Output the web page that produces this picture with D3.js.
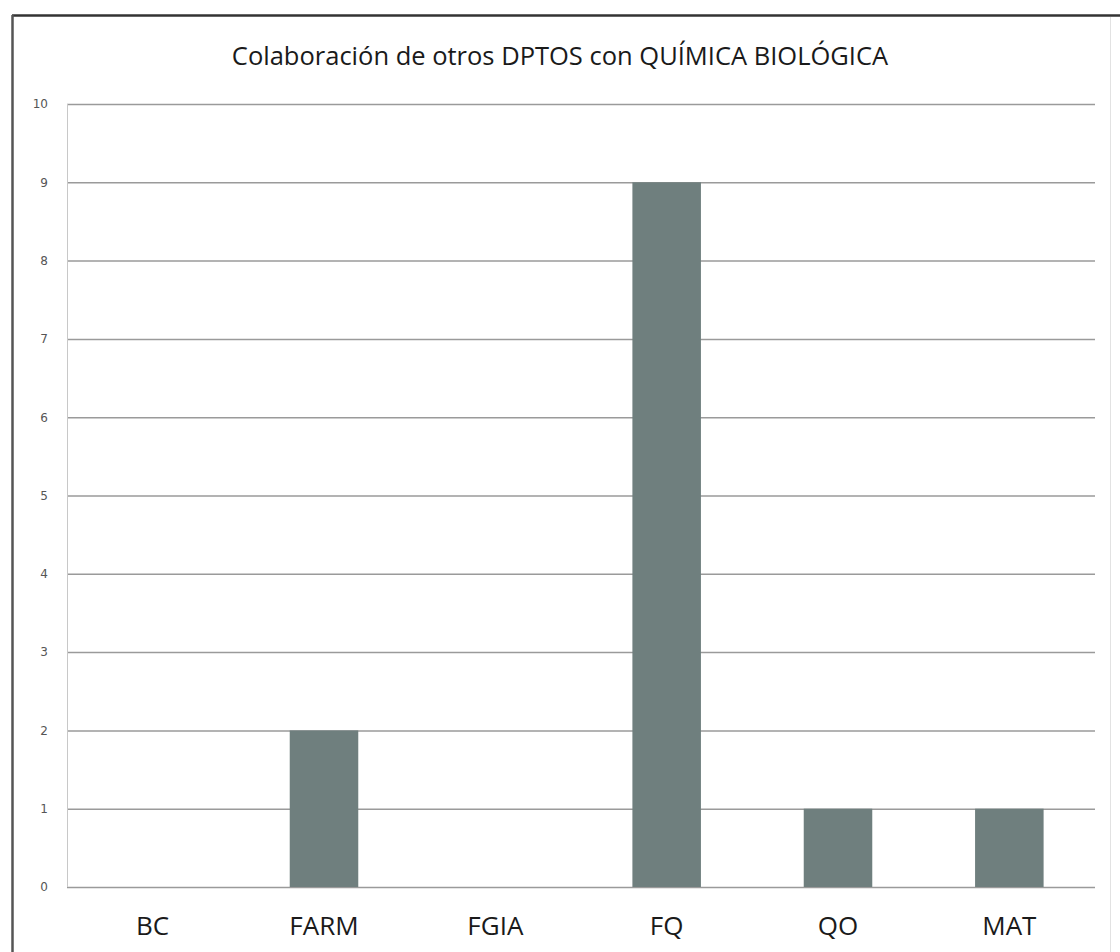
<!DOCTYPE html>
<html>
<head>
<meta charset="utf-8">
<script src="https://d3js.org/d3.v7.min.js"></script>
<style>
  body { margin: 0; background: #fff; }
  svg { display: block; }
</style>
</head>
<body>
<svg width="1120" height="952"></svg>
<script>
var svg = d3.select('svg');

// chart data
var categories = ['BC', 'FARM', 'FGIA', 'FQ', 'QO', 'MAT'];
var values = [0, 2, 0, 9, 1, 1];
var yTicks = [0, 1, 2, 3, 4, 5, 6, 7, 8, 9, 10];
var title = 'Colaboración de otros DPTOS con QUÍMICA BIOLÓGICA';

var plot = {l: 67, r: 1095, t: 104, b: 887};

// outer frame
svg.append('line')
    .attr('x1', 12).attr('x2', 1120)
    .attr('y1', 15.5).attr('y2', 15.5)
    .style('stroke', '#333').style('stroke-width', 2.5);
svg.append('line')
    .attr('x1', 12.5).attr('x2', 12.5)
    .attr('y1', 15).attr('y2', 952)
    .style('stroke', '#555').style('stroke-width', 2.5);
svg.append('line')
    .attr('x1', 1110.5).attr('x2', 1110.5)
    .attr('y1', 17).attr('y2', 952)
    .style('stroke', '#e2e2e2').style('stroke-width', 1);

var x = d3.scaleBand()
    .domain(categories)
    .range([plot.l, plot.r])
    .paddingInner(0.6)
    .paddingOuter(0.3);

var y = d3.scaleLinear()
    .domain([0, 10])
    .range([plot.b, plot.t]);

// title
svg.append('text')
    .attr('text-anchor', 'middle')
    .attr('x', 560)
    .attr('y', 65)
    .style('font-family', 'Open Sans, sans-serif')
    .style('font-size', '25.5px')
    .style('font-weight', 500)
    .style('fill', '#1a1a1a')
    .text(title);

// gridlines + y labels
var yAxis = d3.axisLeft(y)
    .tickValues(yTicks)
    .tickSize(-(plot.r - plot.l))
    .tickPadding(19)
    .tickFormat(d3.format('d'));

var gy = svg.append('g')
    .attr('transform', 'translate(' + plot.l + ',0)')
    .call(yAxis);
gy.select('.domain').remove();
gy.selectAll('.tick line')
    .style('stroke', '#9a9a9a')
    .style('stroke-width', 1.5);
gy.selectAll('.tick text')
    .style('font-family', 'DejaVu Sans, sans-serif')
    .style('font-size', '12px')
    .style('fill', '#555');

// plot area left edge
svg.append('line')
    .attr('x1', plot.l + 0.5).attr('x2', plot.l + 0.5)
    .attr('y1', plot.t).attr('y2', plot.b)
    .style('stroke', '#c8c8c8').style('stroke-width', 1);

// bars
svg.append('g')
    .selectAll('rect')
    .data(values)
    .enter()
    .append('rect')
    .attr('x', function(d, i){ return x(categories[i]); })
    .attr('width', x.bandwidth())
    .attr('y', function(d){ return y(d); })
    .attr('height', function(d){ return y(0) - y(d); })
    .style('fill', '#6f7f7e');

// category labels
var xAxis = d3.axisBottom(x).tickSize(0).tickPadding(30);
var gx = svg.append('g')
    .attr('transform', 'translate(0,' + plot.b + ')')
    .call(xAxis);
gx.select('.domain').remove();
gx.selectAll('.tick text')
    .style('font-family', 'Open Sans, sans-serif')
    .style('font-size', '26px')
    .style('font-weight', 500)
    .style('fill', '#1a1a1a');
</script>
</body>
</html>
